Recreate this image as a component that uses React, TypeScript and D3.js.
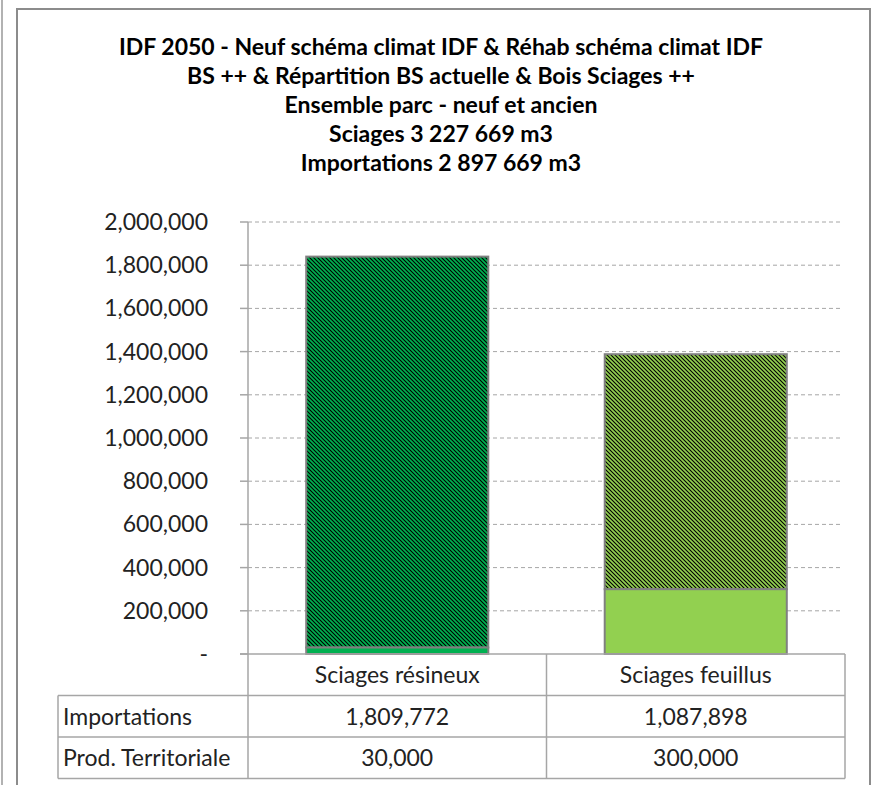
import { useEffect } from 'react';
import * as d3 from 'd3';

const titleLines = [
  'IDF 2050 - Neuf schéma climat IDF & Réhab schéma climat IDF',
  'BS ++ & Répartition BS actuelle & Bois Sciages ++',
  'Ensemble parc - neuf et ancien',
  'Sciages 3 227 669 m3',
  'Importations 2 897 669 m3',
];

const categories = ['Sciages résineux', 'Sciages feuillus'];
const seriesNames = ['Importations', 'Prod. Territoriale'];
const importations = [1809772, 1087898];
const prodTerritoriale = [30000, 300000];
const barColors = ['#00B050', '#92D050'];
const yTicks = [0, 200000, 400000, 600000, 800000, 1000000, 1200000, 1400000, 1600000, 1800000, 2000000];

const W = 875;
const H = 785;
const FONT = 'Lato, "Open Sans", sans-serif';
const plot = { left: 248, right: 845, top: 222, bottom: 654 };
const tableLeft = 58;
const rowH = 41.5;

export default function App() {
  useEffect(() => {
    document.body.style.margin = '0';
  }, []);

  const x = d3.scaleBand<string>().domain(categories).range([plot.left, plot.right]).paddingInner(0.39).paddingOuter(0.195);
  const xCell = d3.scaleBand<string>().domain(categories).range([plot.left, plot.right]);
  const y = d3.scaleLinear().domain([0, 2000000]).range([plot.bottom, plot.top]);
  const fmt = d3.format(',');
  const tickLabel = (v: number) => (v === 0 ? '-' : fmt(v));

  const tableTop = plot.bottom;
  const rows = [
    { name: seriesNames[0], values: importations },
    { name: seriesNames[1], values: prodTerritoriale },
  ];
  const tableBottom = tableTop + rowH * 3;

  return (
    <svg width={W} height={H} style={{ display: 'block', background: '#fff' }}>
      <defs>
        {barColors.map((c, i) => (
          <pattern key={i} id={`hatch${i}`} width={4} height={4} patternUnits="userSpaceOnUse">
            <rect width={4} height={4} fill={c} />
            <path d="M-1,-1 L5,5 M-1,3 L1,5 M3,-1 L5,1" stroke="#000" strokeWidth={1.1} />
          </pattern>
        ))}
      </defs>

      {/* page edge + chart frame */}
      <line x1={2} x2={2} y1={0} y2={H} stroke="#999" strokeWidth={1.5} />
      <path d={`M17,${H} V9 H870 V${H}`} fill="none" stroke="#8c8c8c" strokeWidth={2} />

      {/* title */}
      <g fontFamily={FONT} fontWeight="bold" fontSize={23} fill="#000" textAnchor="middle">
        {titleLines.map((t, i) => (
          <text key={i} x={441} y={55 + i * 29}>{t}</text>
        ))}
      </g>

      {/* gridlines */}
      {yTicks.filter((t) => t > 0).map((t) => (
        <line key={t} x1={plot.left} x2={plot.right - 3} y1={y(t)} y2={y(t)} stroke="#a6a6a6" strokeDasharray="4,3" strokeWidth={1} />
      ))}

      {/* y axis */}
      <line x1={plot.left} x2={plot.left} y1={plot.top} y2={tableBottom} stroke="#a6a6a6" strokeWidth={1.5} />
      {yTicks.map((t) => (
        <g key={t}>
          <line x1={plot.left - 8} x2={plot.left} y1={y(t)} y2={y(t)} stroke="#a6a6a6" strokeWidth={1.5} />
          <text x={208} y={y(t) + 8} textAnchor="end" fontFamily={FONT} fontSize={23} fill="#222">{tickLabel(t)}</text>
        </g>
      ))}

      {/* bars */}
      {categories.map((c, i) => {
        const x0 = x(c)!;
        const bw = x.bandwidth();
        const yProd = y(prodTerritoriale[i]);
        const yTop = y(prodTerritoriale[i] + importations[i]);
        return (
          <g key={c}>
            <rect x={x0} y={yTop} width={bw} height={yProd - yTop} fill={`url(#hatch${i})`} stroke="#808080" strokeWidth={2} />
            <rect x={x0} y={yProd} width={bw} height={plot.bottom - yProd} fill={barColors[i]} stroke="#808080" strokeWidth={2} />
          </g>
        );
      })}

      {/* data table */}
      <g stroke="#a6a6a6" strokeWidth={1.5} fill="none">
        <line x1={plot.left - 8} x2={plot.right} y1={tableTop} y2={tableTop} />
        <line x1={tableLeft} x2={plot.right} y1={tableTop + rowH} y2={tableTop + rowH} />
        <line x1={tableLeft} x2={plot.right} y1={tableTop + rowH * 2} y2={tableTop + rowH * 2} />
        <line x1={tableLeft} x2={plot.right} y1={tableBottom} y2={tableBottom} />
        <line x1={tableLeft} x2={tableLeft} y1={tableTop + rowH} y2={tableBottom} />
        <line x1={xCell(categories[1])} x2={xCell(categories[1])} y1={tableTop} y2={tableBottom} />
        <line x1={plot.right} x2={plot.right} y1={tableTop} y2={tableBottom} />
      </g>
      <g fontFamily={FONT} fontSize={23} fill="#222">
        {categories.map((c) => (
          <text key={c} x={xCell(c)! + xCell.bandwidth() / 2} y={tableTop + 29} textAnchor="middle">{c}</text>
        ))}
        {rows.map((r, ri) => (
          <g key={r.name}>
            <text x={tableLeft + 5} y={tableTop + rowH * (ri + 1) + 29}>{r.name}</text>
            {r.values.map((v, ci) => (
              <text key={ci} x={xCell(categories[ci])! + xCell.bandwidth() / 2} y={tableTop + rowH * (ri + 1) + 29} textAnchor="middle">{fmt(v)}</text>
            ))}
          </g>
        ))}
      </g>
    </svg>
  );
}
